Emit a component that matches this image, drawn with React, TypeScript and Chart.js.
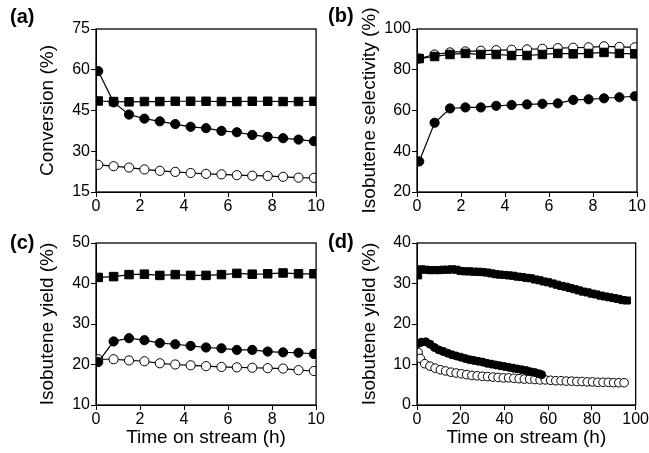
import { useEffect, useRef } from "react";
import { Chart, registerables } from "chart.js";
Chart.register(...registerables);

// panels (a)-(c): 0-10 h
const timeShort = [0.1, 0.8, 1.5, 2.2, 2.9, 3.6, 4.3, 5.0, 5.7, 6.4, 7.1, 7.8, 8.5, 9.2, 9.9];

const convSquare = [48.5, 48.3, 48.2, 48.3, 48.3, 48.4, 48.4, 48.4, 48.3, 48.3, 48.4, 48.4, 48.3, 48.3, 48.4];
const convFilled = [59.5, 48, 43.5, 42, 41, 40, 39, 38.5, 37.5, 37, 36, 35.3, 34.8, 34.3, 33.7];
const convOpen = [25, 24.5, 24, 23.3, 22.8, 22.4, 22, 21.7, 21.5, 21.2, 21, 20.9, 20.6, 20.3, 20.2];

const selOpen = [85.5, 87.5, 88.5, 89, 89.3, 89.6, 89.8, 90, 90.3, 90.6, 90.8, 91, 91.5, 91.2, 91];
const selSquare = [85.5, 86.5, 87.5, 88, 87.5, 87.5, 87, 87, 87.5, 88, 87.8, 88, 88.5, 88, 87.8];
const selFilled = [35, 54, 61, 61.5, 61.5, 62.3, 62.7, 63, 63.3, 63.5, 65.2, 65.5, 66, 66.5, 67];

const yieldSquare = [41.5, 41.7, 42.2, 42.3, 42, 42.2, 42, 42, 42.2, 42.5, 42.3, 42.4, 42.6, 42.4, 42.4];
const yieldFilled = [20.6, 25.7, 26.5, 26, 25.3, 25, 24.6, 24.2, 24, 23.6, 23.6, 23.2, 23, 22.9, 22.6];
const yieldOpen = [21.3, 21.3, 21, 20.8, 20.3, 20, 19.8, 19.6, 19.4, 19.3, 19.2, 19.1, 19, 18.6, 18.4];

// panel (d): long run
const longSquareT = [0.5, 2, 4, 6, 8, 10, 12, 14, 16, 18, 20, 22, 24, 26, 28, 30, 32, 34, 36, 38, 40, 42, 44, 46, 48, 50, 52, 54, 56, 58, 60, 62, 64, 66, 68, 70, 72, 74, 76, 78, 80, 82, 84, 86, 88, 90, 92, 94, 96];
const longSquare = [32, 33.5, 33.4, 33.3, 33.3, 33.3, 33.4, 33.4, 33.5, 33.4, 33.1, 33.0, 33.0, 32.9, 32.9, 32.8, 32.7, 32.5, 32.3, 32.2, 32.1, 32.0, 31.9, 31.7, 31.6, 31.4, 31.3, 31.0, 30.8, 30.5, 30.3, 30.0, 29.7, 29.4, 29.2, 28.9, 28.6, 28.3, 28.0, 27.8, 27.5, 27.3, 27.0, 26.8, 26.6, 26.4, 26.2, 25.9, 25.8];
const longFilledT = [0.5, 2, 4, 6, 8, 10, 12, 14, 16, 18, 20, 22, 24, 26, 28, 30, 32, 34, 36, 38, 40, 42, 44, 46, 48, 50, 52, 54, 56, 57];
const longFilled = [15.2, 15.5, 15.6, 15.0, 14.2, 13.6, 13.2, 12.8, 12.4, 12.1, 11.8, 11.5, 11.2, 11.0, 10.8, 10.6, 10.3, 10.1, 9.9, 9.7, 9.5, 9.3, 9.1, 8.9, 8.7, 8.5, 8.2, 8.0, 7.7, 7.5];
const longOpenT = [0.5, 1.5, 3.5, 5.9, 8.3, 10.7, 13.1, 15.5, 17.9, 20.3, 22.7, 25.1, 27.5, 29.9, 32.3, 34.7, 37.1, 39.5, 41.9, 44.3, 46.7, 49.1, 51.5, 53.9, 56.3, 58.7, 61.1, 63.5, 65.9, 68.3, 70.7, 73.1, 75.5, 77.9, 80.3, 82.7, 85.1, 87.5, 89.9, 92.3, 94.7];
const longOpen = [13, 11.5, 10.2, 9.6, 9.1, 8.7, 8.4, 8.1, 7.9, 7.7, 7.5, 7.3, 7.2, 7.1, 7.0, 6.9, 6.8, 6.7, 6.7, 6.6, 6.5, 6.4, 6.4, 6.3, 6.2, 6.2, 6.1, 6.0, 6.0, 5.9, 5.9, 5.8, 5.8, 5.7, 5.7, 5.6, 5.6, 5.6, 5.5, 5.5, 5.5];

const FONT = "'Liberation Sans', Arial, sans-serif";

type Series = { x: number[]; y: number[]; style: "square" | "filled" | "open"; r?: number };

const pts = (x: number[], y: number[]) => x.map((v, i) => ({ x: v, y: y[i] }));

const frame = {
  id: "frame",
  afterDraw(c: any) {
    const { ctx, chartArea: a } = c;
    ctx.save();
    ctx.strokeStyle = "#000";
    ctx.lineWidth = 1.3;
    ctx.strokeRect(a.left, a.top, a.right - a.left, a.bottom - a.top);
    ctx.restore();
  },
};

function Panel(props: {
  left: number; top: number; w: number; h: number;
  padTop: number; padRight: number; yW: number; xH: number; titleOff: number;
  label: string; yTitle: string; xTitle?: string;
  xMax: number; xStep: number; yMin: number; yMax: number; yStep: number;
  series: Series[];
}) {
  const ref = useRef<HTMLCanvasElement>(null);
  useEffect(() => {
    if (!ref.current) return;
    const p = props;
    const chart = new Chart(ref.current, {
      type: "scatter",
      data: {
        datasets: p.series.map((s) => ({
          data: pts(s.x, s.y),
          showLine: true,
          borderColor: "#000",
          borderWidth: 1.2,
          pointStyle: s.style === "square" ? "rect" : "circle",
          pointRadius: s.r ?? 4.6,
          pointBackgroundColor: s.style === "open" ? "#fff" : "#000",
          pointBorderColor: "#000",
          pointBorderWidth: 1,
        })),
      },
      options: {
        animation: false,
        responsive: false,
        layout: { padding: { top: p.padTop, right: p.padRight, left: 0, bottom: 0 } },
        plugins: { legend: { display: false }, tooltip: { enabled: false } },
        scales: {
          x: {
            min: 0, max: p.xMax,
            ticks: { stepSize: p.xStep, color: "#000", font: { family: FONT, size: 16 }, padding: 0, maxRotation: 0 },
            grid: { drawOnChartArea: false, tickLength: 5, color: "#000" },
            border: { color: "#000" },
            title: { display: !!p.xTitle, text: p.xTitle ?? "", color: "#000", font: { family: FONT, size: 19 }, padding: { top: 6 } },
            afterFit: (s: any) => { s.height = p.xH; },
          },
          y: {
            min: p.yMin, max: p.yMax,
            ticks: { stepSize: p.yStep, color: "#000", font: { family: FONT, size: 16 }, padding: 1 },
            grid: { drawOnChartArea: false, tickLength: 5, color: "#000" },
            border: { color: "#000" },
            title: { display: true, text: p.yTitle, color: "#000", font: { family: FONT, size: 19 }, padding: { top: p.titleOff, bottom: 0 } },
            afterFit: (s: any) => { s.width = p.yW; },
          },
        },
      },
      plugins: [frame],
    });
    return () => chart.destroy();
  }, []);
  return (
    <div style={{ position: "absolute", left: props.left, top: props.top, width: props.w, height: props.h }}>
      <canvas ref={ref} width={props.w} height={props.h} style={{ width: props.w, height: props.h }} />
      <div style={{ position: "absolute", left: props.label === "(b)" || props.label === "(d)" ? 3 : 10, top: props.label === "(b)" || props.label === "(d)" ? 4 : 5, fontFamily: FONT, fontWeight: "bold", fontSize: 20 }}>
        {props.label}
      </div>
    </div>
  );
}

export default function App() {
  return (
    <div style={{ position: "absolute", left: 0, top: 0, width: 649, height: 453, background: "#fff", overflow: "hidden" }}>
      <Panel left={0} top={0} w={325} h={226} padTop={29} padRight={7} yW={96} xH={34} titleOff={36}
        label="(a)" yTitle="Conversion (%)" xMax={10} xStep={2} yMin={15} yMax={75} yStep={15}
        series={[
          { x: timeShort, y: convSquare, style: "square", r: 6 },
          { x: timeShort, y: convFilled, style: "filled" },
          { x: timeShort, y: convOpen, style: "open" },
        ]} />
      <Panel left={325} top={0} w={324} h={226} padTop={29} padRight={12} yW={92} xH={34} titleOff={33}
        label="(b)" yTitle="Isobutene selectivity (%)" xMax={10} xStep={2} yMin={20} yMax={100} yStep={20}
        series={[
          { x: timeShort, y: selSquare, style: "square", r: 6 },
          { x: timeShort, y: selOpen, style: "open" },
          { x: timeShort, y: selFilled, style: "filled" },
        ]} />
      <Panel left={0} top={226} w={325} h={227} padTop={17} padRight={7} yW={96} xH={48} titleOff={36}
        label="(c)" yTitle="Isobutene yield (%)" xTitle="Time on stream (h)" xMax={10} xStep={2} yMin={10} yMax={50} yStep={10}
        series={[
          { x: timeShort, y: yieldSquare, style: "square", r: 6 },
          { x: timeShort, y: yieldFilled, style: "filled" },
          { x: timeShort, y: yieldOpen, style: "open" },
        ]} />
      <Panel left={325} top={226} w={324} h={227} padTop={17} padRight={12} yW={92} xH={48} titleOff={33}
        label="(d)" yTitle="Isobutene yield (%)" xTitle="Time on stream (h)" xMax={100} xStep={20} yMin={0} yMax={40} yStep={10}
        series={[
          { x: longSquareT, y: longSquare, style: "square", r: 5 },
          { x: longFilledT, y: longFilled, style: "filled", r: 4 },
          { x: longOpenT, y: longOpen, style: "open", r: 4.3 },
        ]} />
    </div>
  );
}
